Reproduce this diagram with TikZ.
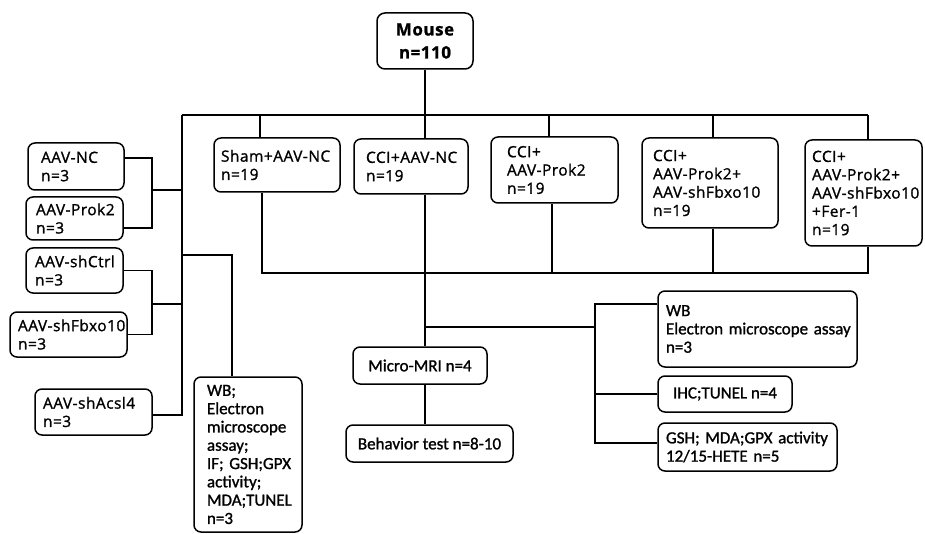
\documentclass[tikz,border=0pt]{standalone}
\usepackage{fontspec}
\setmainfont{Open Sans}[FakeBold=1.2,LetterSpace=3]
\newfontfamily\carlito{Carlito}[FakeBold=1.2]
\newcommand\osf{\fontsize{15.5}{18.3}\selectfont\exhyphenpenalty=10000 \hyphenpenalty=10000 }
\newcommand\cbf{\carlito\fontsize{17}{18.3}\selectfont\exhyphenpenalty=10000 \hyphenpenalty=10000 }
\begin{document}
\begin{tikzpicture}[x=1pt,y=-1pt,line width=1.5pt,
  grp/.style={draw,rounded corners=7pt,align=left,inner ysep=0pt,font=\osf},
  calb/.style={draw,rounded corners=7pt,align=left,inner ysep=0pt,font=\cbf},
  calc/.style={draw,rounded corners=7pt,align=center,inner sep=0pt,font=\cbf}]
\useasboundingbox (0,0) rectangle (925,534);
% top
\node[draw,rounded corners=8pt,align=center,minimum width=96pt,minimum height=56pt,inner sep=0pt,font=\fontsize{17}{23}\selectfont\bfseries] (mouse) at (425,41) {Mouse\\n=110};
% groups
\node[grp,text width=112pt,inner xsep=7pt,minimum height=54pt] (sham) at (277,165) {Sham+AAV-NC\\n=19};
\node[grp,text width=90pt,inner xsep=12pt,minimum height=55pt] (cci1) at (411,166.5) {CCI+AAV-NC\\n=19};
\node[grp,text width=95pt,inner xsep=16pt,minimum height=66pt] (cci2) at (554.5,170) {CCI+\\AAV-Prok2\\n=19};
\node[grp,text width=114pt,inner xsep=11pt,minimum height=90pt] (cci3) at (710,183) {CCI+\\AAV-Prok2+\\AAV-shFbxo10\\n=19};
\node[grp,text width=103pt,inner xsep=7pt,minimum height=106pt] (fer) at (863.5,193) {CCI+\\AAV-Prok2+\\AAV-shFbxo10\\+Fer-1\\n=19};
% left boxes
\node[grp,text width=70pt,inner xsep=13pt,minimum height=47pt] (aavnc) at (76,166.5) {AAV-NC\\n=3};
\node[grp,text width=77pt,inner xsep=10pt,minimum height=43pt] (aavprok) at (74.5,218.5) {AAV-Prok2\\n=3};
\node[grp,text width=79pt,inner xsep=9pt,minimum height=45pt] (shctrl) at (74.5,270.5) {AAV-shCtrl\\n=3};
\node[grp,text width=101pt,inner xsep=8pt,minimum height=45pt] (shfbxo) at (68.5,334.5) {AAV-shFbxo10\\n=3};
\node[grp,text width=101pt,inner xsep=8pt,minimum height=46pt] (shacsl) at (93.5,412) {AAV-shAcsl4\\n=3};
\node[calb,text width=82pt,inner xsep=13pt,minimum height=155pt] (wbl) at (248,454.5) {WB;\\Electron\\microscope\\assay;\\IF;~GSH;GPX\\activity;\\MDA;TUNEL\\n=3};
% bottom middle
\node[calc,minimum width=134pt,minimum height=37pt] (micro) at (420,365.5) {Micro-MRI n=4};
\node[calc,minimum width=167pt,minimum height=37pt] (behav) at (429.5,443.5) {Behavior test n=8-10};
% right
\node[calb,text width=183pt,inner xsep=8pt,minimum height=76pt] (wbr) at (757.5,329) {WB\\Electron~microscope~assay\\n=3};
\node[calc,minimum width=134pt,minimum height=36pt] (ihc) at (725,394) {IHC;TUNEL n=4};
\node[calb,text width=163pt,inner xsep=8pt,minimum height=48pt] (gsh) at (747.5,447) {GSH;~MDA;GPX~activity\\12/15-HETE~n=5};
% coordinates
\coordinate (tl) at (182,115);
\coordinate (tr) at (868,115);
\coordinate (x1) at (260,0);
\coordinate (x2) at (425,0);
\coordinate (x3) at (549,0);
\coordinate (x3b) at (552,0);
\coordinate (x4) at (713,0);
\coordinate (x5) at (868,0);
\coordinate (bl) at (262,273);
\coordinate (bj) at (425,327);
\coordinate (rv) at (595,0);
\coordinate (lb) at (152,0);
\coordinate (x0) at (232,0);
\coordinate (m1) at (152,190);
\coordinate (m2) at (152,304);
\coordinate (m3) at (182,255);
\coordinate (a1) at ([yshift=8.5pt]aavnc.east);
\coordinate (a2) at ([yshift=-9.5pt]aavprok.east);
\coordinate (a3) at ([yshift=-3pt]shacsl.east);
\coordinate (w) at ([yshift=25pt]wbr.west);
\coordinate (g) at ([yshift=4pt]gsh.west);
% connectors top
\draw (tl) -- (tr);
\draw (mouse.south) -- (mouse.south |- tl);
\draw (sham.north -| x1) -- (tl -| x1);
\draw (cci1.north -| x2) -- (tl -| x2);
\draw (cci2.north -| x3) -- (tl -| x3);
\draw (cci3.north -| x4) -- (tl -| x4);
\draw (fer.north -| x5) -- (tl -| x5);
% bottom collector
\draw (sham.south -| bl) -- (bl) -- (bl -| x5) -- (fer.south -| x5);
\draw (cci2.south -| x3b) -- (bl -| x3b);
\draw (cci3.south -| x4) -- (bl -| x4);
\draw (cci1.south -| x2) -- (micro.north -| x2);
\draw (micro.south -| x2) -- (behav.north -| x2);
% right branch
\draw (bj) -- (bj -| rv);
\draw (w) -| (g -| rv) -- (g);
\draw (ihc.west) -- (ihc.west -| rv);
% left
\draw (tl) |- (a3);
\draw (a1) -| (a2 -| lb) -- (a2);
\draw (m1) -- (m1 -| tl);
\draw (shctrl.east) -| (shfbxo.east -| lb) -- (shfbxo.east);
\draw (m2) -- (m2 -| tl);
\draw (m3) -| (wbl.north -| x0);
\end{tikzpicture}
\end{document}
